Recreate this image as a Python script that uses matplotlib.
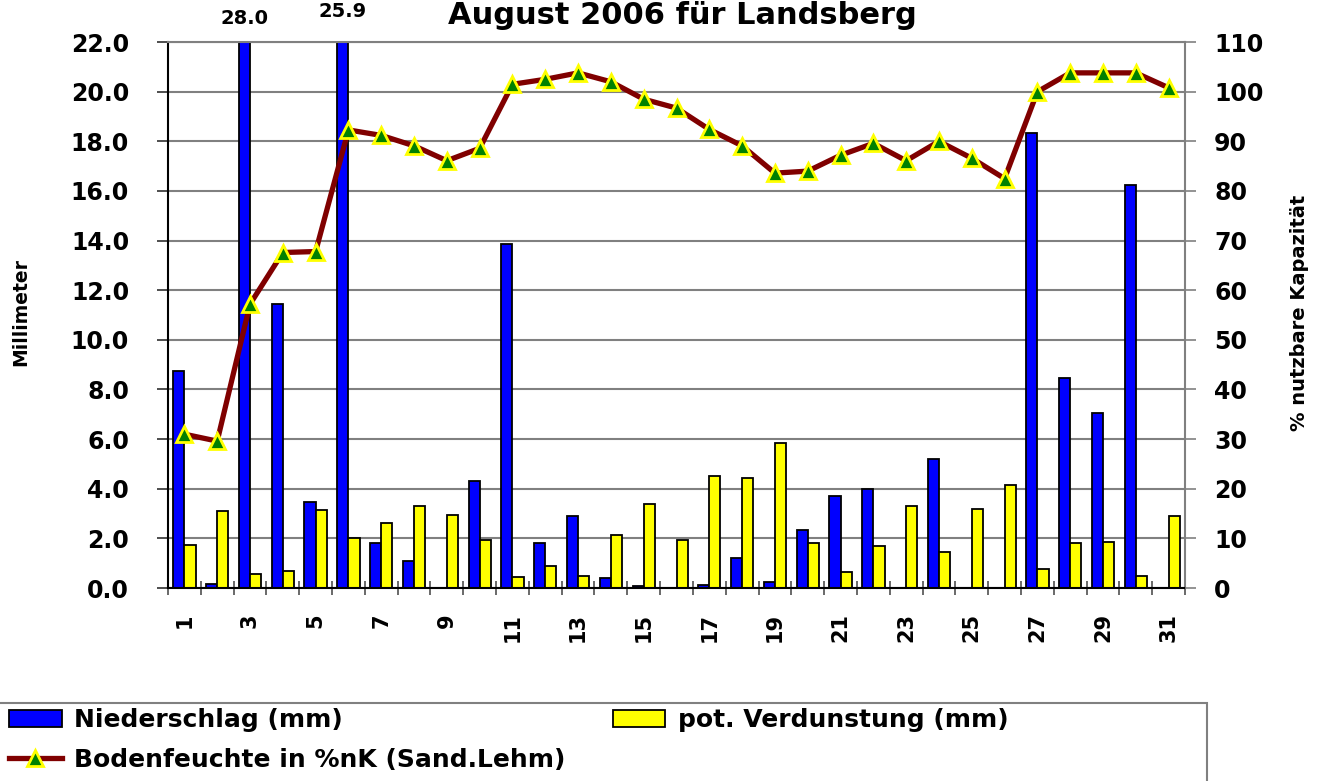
import matplotlib.pyplot as plt
from matplotlib.patches import Patch, Rectangle
from matplotlib.lines import Line2D
import numpy as np

# Tageswerte August 2006, Landsberg
days = list(range(1, 32))
niederschlag = [8.75, 0.15, 28.0, 11.45, 3.45, 25.9, 1.8, 1.1, 0.0, 4.3,
                13.85, 1.8, 2.9, 0.4, 0.07, 0.0, 0.13, 1.2, 0.25, 2.35,
                3.7, 4.0, 0.0, 5.2, 0.0, 0.0, 18.35, 8.45, 7.05, 16.25, 0.0]
verdunstung = [1.75, 3.1, 0.55, 0.7, 3.15, 2.0, 2.6, 3.3, 2.95, 1.95,
               0.45, 0.9, 0.5, 2.15, 3.4, 1.95, 4.5, 4.45, 5.85, 1.8,
               0.65, 1.7, 3.3, 1.45, 3.2, 4.15, 0.75, 1.8, 1.85, 0.5, 2.9]
bodenfeuchte = [31.0, 29.6, 57.2, 67.6, 67.8, 92.3, 91.2, 89.1, 86.1, 88.6,
                101.5, 102.5, 103.8, 102.0, 98.5, 96.7, 92.4, 89.1, 83.6, 84.0,
                87.2, 89.6, 86.1, 90.0, 86.6, 82.5, 100.0, 103.8, 103.8, 103.8, 100.8]

black = '#000000'
gray = '#808080'
blue = '#0000ff'
yellow = '#ffff00'
darkred = '#800000'
green = '#008000'

plt.rcParams['font.family'] = 'DejaVu Sans'
plt.rcParams['font.weight'] = 'bold'

fig = plt.figure(figsize=(13.27, 7.81), dpi=100)
ax = fig.add_axes([0.1266, 0.2471, 0.7664, 0.699])

x = np.arange(len(days))
w = 0.34
ymax = 22.0
ax.bar(x - w / 2, niederschlag, w, color=blue, edgecolor=black, linewidth=1.3, zorder=2)
ax.bar(x + w / 2, verdunstung, w, color=yellow, edgecolor=black, linewidth=1.3, zorder=2)

# werte ueber der skala als zahl oben drueber
for i, v in enumerate(niederschlag):
    if v > ymax:
        ax.text(x[i] - w / 2, ymax + 0.95 + (0.28 if v < 27 else 0), '%.1f' % v,
                ha='center', va='center', fontsize=14, clip_on=False)

ax.set_xlim(-0.5, len(days) - 0.5)
ax.set_ylim(0, ymax)
yt = np.arange(0, ymax + 0.1, 2)
ax.set_yticks(yt)
ax.set_yticklabels(['%.1f' % v for v in yt], fontsize=17)
ax.yaxis.grid(True, color=gray, linewidth=1.5)
ax.set_axisbelow(True)

ax.set_xticks(x[::2])
ax.set_xticklabels([str(d) for d in days[::2]], rotation=90, fontsize=15)
ax.set_xticks(np.arange(-0.5, len(days), 1), minor=True)
ax.tick_params(axis='x', which='major', length=0, pad=18)
ax.tick_params(axis='x', which='minor', length=10, direction='inout', width=1.2, color='#505050')
ax.tick_params(axis='y', length=8, width=1.2, pad=20, color='#303030')

for s in ['top', 'right']:
    ax.spines[s].set_color(gray)
    ax.spines[s].set_linewidth(1.5)
ax.spines['left'].set_linewidth(1.5)
ax.spines['bottom'].set_linewidth(1.5)

ax2 = ax.twinx()
ax2.plot(x, bodenfeuchte, color=darkred, linewidth=3.8, marker='^', markersize=12,
         markerfacecolor=green, markeredgecolor=yellow, markeredgewidth=2, zorder=3)
ax2.set_ylim(0, 110)
ax2.set_yticks(np.arange(0, 111, 10))
ax2.tick_params(axis='y', length=8, width=1.2, pad=13, color=gray, labelsize=17)
for s in ax2.spines.values():
    s.set_visible(False)

fig.text(0.0155, 0.600, 'Millimeter', rotation=90, ha='center', va='center', fontsize=13.5)
fig.text(0.979, 0.600, '% nutzbare Kapazität', rotation=90, ha='center', va='center', fontsize=14)
fig.text(0.514, 1 - 1 / 781, 'August 2006 für Landsberg', ha='center', va='top', fontsize=22)

# legende unten
handles = [Patch(facecolor=blue, edgecolor=black, linewidth=1.3),
           Line2D([], [], color=darkred, linewidth=3.8, marker='^', markersize=12,
                  markerfacecolor=green, markeredgecolor=yellow, markeredgewidth=2),
           Patch(facecolor=yellow, edgecolor=black, linewidth=1.3)]
labels = ['Niederschlag (mm)', 'Bodenfeuchte in %nK (Sand.Lehm)', 'pot. Verdunstung (mm)']
fig.legend(handles, labels, ncol=2, loc='upper left', bbox_to_anchor=(9 / 1327, 1 - 708 / 781),
           frameon=False, borderpad=0, borderaxespad=0, fontsize=18, handlelength=2.1,
           handletextpad=0.5, columnspacing=1.9, labelspacing=0.62, numpoints=1)
fig.add_artist(Rectangle((-0.01, -0.1), 0.9196, 0.1999, transform=fig.transFigure,
                         fill=False, edgecolor=gray, linewidth=1.5))

fig.savefig('out.png', dpi=100)
